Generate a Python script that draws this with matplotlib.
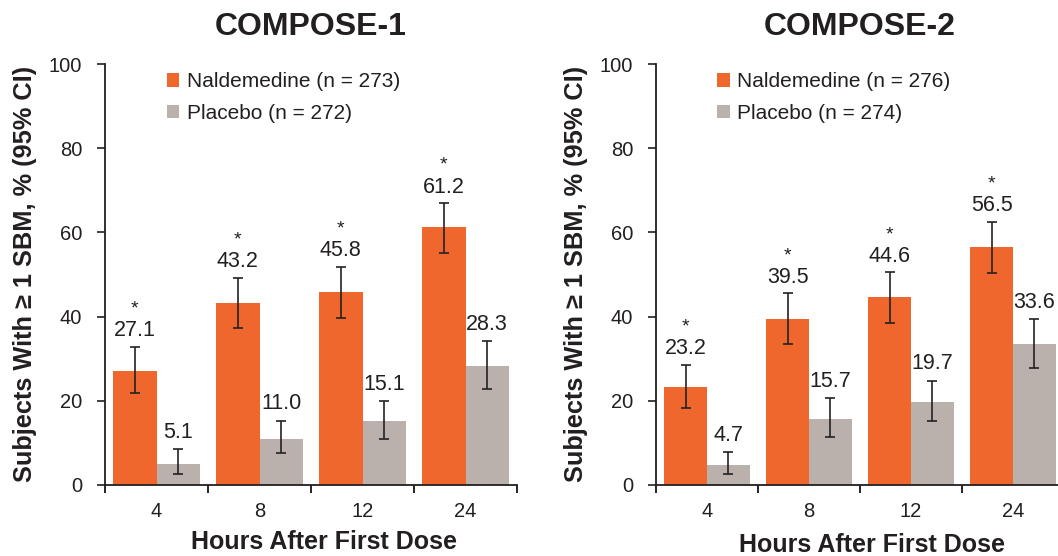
import matplotlib
matplotlib.use("Agg")
import matplotlib.pyplot as plt
import numpy as np

plt.rcParams['font.family'] = ['Liberation Sans', 'DejaVu Sans']

hours = ["4", "8", "12", "24"]

titles = ["COMPOSE-1", "COMPOSE-2"]
legend_nald = ["Naldemedine (n = 273)", "Naldemedine (n = 276)"]
legend_plac = ["Placebo (n = 272)", "Placebo (n = 274)"]

c1_nald = [27.1, 43.2, 45.8, 61.2]
c1_nald_lo = [21.9, 37.3, 39.7, 55.1]
c1_nald_hi = [32.8, 49.2, 51.9, 67.0]
c1_plac = [5.1, 11.0, 15.1, 28.3]
c1_plac_lo = [2.6, 7.5, 10.9, 22.9]
c1_plac_hi = [8.5, 15.3, 19.9, 34.1]

c2_nald = [23.2, 39.5, 44.6, 56.5]
c2_nald_lo = [18.3, 33.6, 38.5, 50.3]
c2_nald_hi = [28.6, 45.5, 50.5, 62.5]
c2_plac = [4.7, 15.7, 19.7, 33.6]
c2_plac_lo = [2.6, 11.5, 15.2, 27.9]
c2_plac_hi = [7.9, 20.6, 24.8, 39.5]

significant = [True, True, True, True]

ORANGE = "#F0672D"
GRAY = "#BAB0AC"
TXT = "#231F20"
W, H = 1058, 556
fig = plt.figure(figsize=(W / 100, H / 100), dpi=100)

axes_px = [(105, 412.0), (656, 408.0)]
bottom_px, top_px = 485, 64

datasets = [
    (c1_nald, c1_nald_lo, c1_nald_hi, c1_plac, c1_plac_lo, c1_plac_hi),
    (c2_nald, c2_nald_lo, c2_nald_hi, c2_plac, c2_plac_lo, c2_plac_hi),
]
xlabel_pos = [(0.532, -0.108), (0.529, -0.113)]
ylabel_x = [-0.165, -0.167]

for i, (left, width) in enumerate(axes_px):
    ax = fig.add_axes([left / W, (H - bottom_px) / H, width / W, (bottom_px - top_px) / H])
    nald, nlo, nhi, plac, plo, phi = datasets[i]
    x = np.arange(len(hours))
    bw = 0.42
    err_n = [np.array(nald) - np.array(nlo), np.array(nhi) - np.array(nald)]
    err_p = [np.array(plac) - np.array(plo), np.array(phi) - np.array(plac)]
    ekw = dict(ecolor="#222222", elinewidth=1.2, capsize=3.3, capthick=1.2)
    b1 = ax.bar(x - bw / 2, nald, bw, color=ORANGE, yerr=err_n, error_kw=ekw,
                label=legend_nald[i], zorder=2)
    b2 = ax.bar(x + bw / 2, plac, bw, color=GRAY, yerr=err_p, error_kw=ekw,
                label=legend_plac[i], zorder=2)
    for j in range(len(hours)):
        ax.annotate(f"{nald[j]:.1f}", (x[j] - bw / 2, nhi[j]), xytext=(0, 7.5),
                    textcoords="offset points", ha="center", va="baseline",
                    fontsize=15.5, color=TXT)
        if significant[j]:
            ax.annotate("*", (x[j] - bw / 2, nhi[j]), xytext=(0, 24),
                        textcoords="offset points", ha="center", va="baseline",
                        fontsize=14, color=TXT)
        ax.annotate(f"{plac[j]:.1f}", (x[j] + bw / 2, phi[j]), xytext=(0, 8),
                    textcoords="offset points", ha="center", va="baseline",
                    fontsize=15.5, color=TXT)

    ax.set_xlim(-0.5, len(hours) - 0.5)
    ax.set_ylim(0, 100)
    ax.set_yticks([0, 20, 40, 60, 80, 100])
    ax.set_xticks(np.arange(len(hours) + 1) - 0.5)
    ax.set_xticklabels([])
    ax.set_xticks(x, minor=True)
    ax.set_xticklabels(hours, minor=True)
    ax.tick_params(axis="x", which="minor", length=0, pad=12.5, labelsize=14.5, colors=TXT)
    ax.tick_params(axis="x", which="major", length=6, width=1.2, direction="out")
    ax.tick_params(axis="y", length=5.5, width=1.2, direction="out", pad=11, labelsize=14.5,
                   colors=TXT)
    for s in ["top", "right"]:
        ax.spines[s].set_visible(False)
    for s in ["left", "bottom"]:
        ax.spines[s].set_linewidth(1.3)
        ax.spines[s].set_color(TXT)
    ax.set_ylabel("Subjects With ≥ 1 SBM, % (95% CI)", fontsize=18.3, fontweight="bold",
                  color=TXT)
    ax.yaxis.set_label_coords(ylabel_x[i], 0.502)
    ax.set_xlabel("Hours After First Dose", fontsize=18, fontweight="bold", color=TXT)
    ax.xaxis.set_label_coords(*xlabel_pos[i])
    ax.text(0.5, 1.088, titles[i], transform=ax.transAxes, ha="center", va="center",
            fontsize=23, fontweight="bold", color=TXT)
    leg = ax.legend(handles=[b1.patches[0], b2.patches[0]],
                    labels=[legend_nald[i], legend_plac[i]],
                    loc="upper left", bbox_to_anchor=(0.13, 1.0), frameon=False,
                    handlelength=0.6, handleheight=0.6, handletextpad=0.35,
                    labelspacing=0.6, fontsize=15, borderaxespad=0)
    for t in leg.get_texts():
        t.set_color(TXT)

fig.savefig("out.png", dpi=100)
